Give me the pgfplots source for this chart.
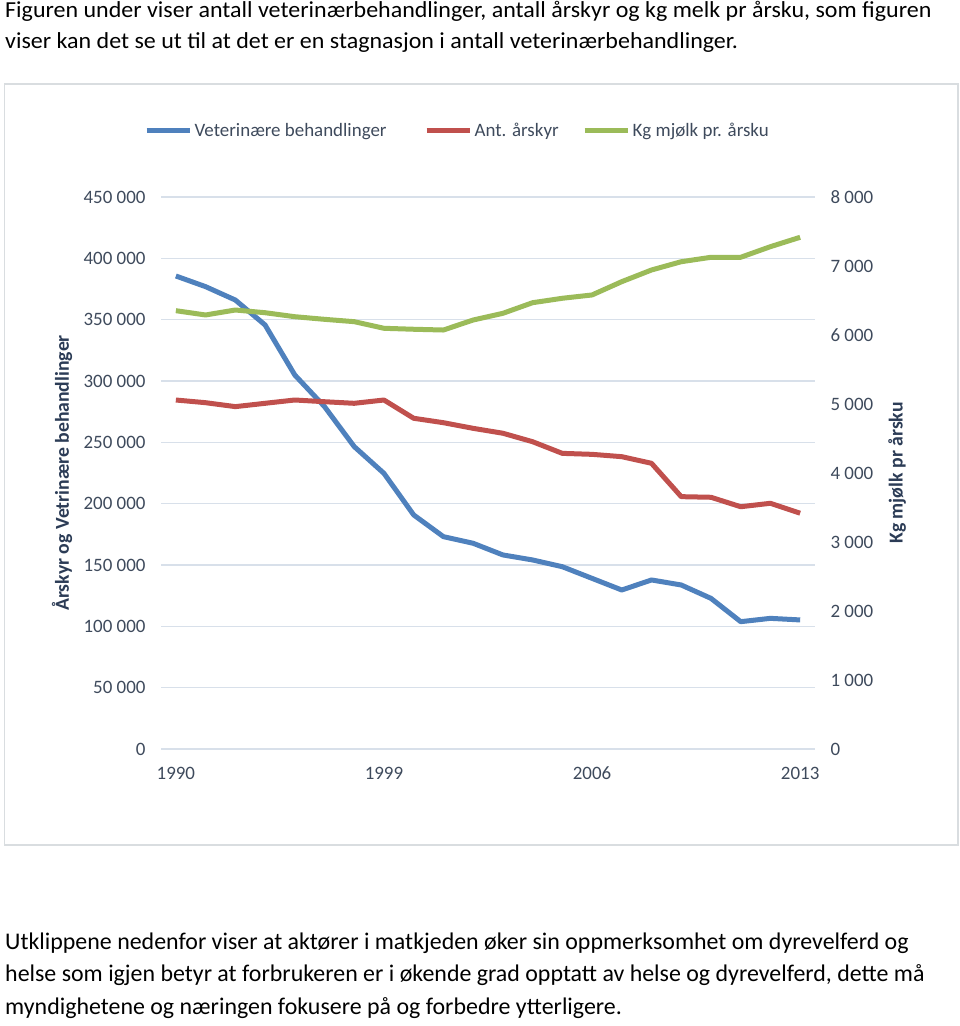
\documentclass[border=0pt]{standalone}
\usepackage{pgfplots}
\pgfplotsset{compat=1.18}
\usepackage{fontspec}
\setmainfont{Carlito}
\definecolor{cblue}{HTML}{4F81BD}
\definecolor{cred}{HTML}{C0504D}
\definecolor{cgreen}{HTML}{9BBB59}
\definecolor{cgrid}{HTML}{D8E0EA}
\definecolor{ctick}{HTML}{3E4A5C}
\definecolor{clabel}{HTML}{2C3C56}
\definecolor{cframe}{HTML}{D9DDE0}
\pgfplotstableread{
i vet arskyr kg
0 385600 284500 6352
1 376900 282300 6290
2 366000 279100 6362
3 345700 281800 6323
4 304900 284500 6265
5 279100 283100 6227
6 246500 281800 6193
7 224700 284500 6097
8 190800 269600 6083
9 173100 266000 6072
10 167700 261400 6217
11 158200 257400 6314
12 154100 250500 6468
13 148600 241000 6532
14 139100 240200 6580
15 129600 238300 6773
16 137800 232900 6942
17 133700 205700 7062
18 122800 205200 7126
19 103800 197500 7126
20 106500 200300 7280
21 105200 192200 7416
}\datatable
\begin{document}
\begin{tikzpicture}[x=1bp,y=1bp]
\useasboundingbox (0,0) rectangle (960,1026);
% frame
\draw[cframe, line width=1.5bp] (4.5,181) rectangle (958,942);
% top text
\node[anchor=base west, inner sep=0] at (5,1008) {\scalebox{1.047}[1]{\fontsize{23}{28}\selectfont Figuren under viser antall veterinærbehandlinger, antall årskyr og kg melk pr årsku, som figuren}};
\node[anchor=base west, inner sep=0] at (5,977) {\scalebox{1.047}[1]{\fontsize{23}{28}\selectfont viser kan det se ut til at det er en stagnasjon i antall veterinærbehandlinger.}};
% bottom text
\node[anchor=base west, inner sep=0] at (5,76.5) {\fontsize{24}{28}\selectfont Utklippene nedenfor viser at aktører i matkjeden øker sin oppmerksomhet om dyrevelferd og};
\node[anchor=base west, inner sep=0] at (5,44) {\fontsize{24}{28}\selectfont helse som igjen betyr at forbrukeren er i økende grad opptatt av helse og dyrevelferd, dette må};
\node[anchor=base west, inner sep=0] at (5,11.5) {\fontsize{24}{28}\selectfont myndighetene og næringen fokusere på og forbedre ytterligere.};
\begin{axis}[
  at={(161bp,277bp)}, anchor=south west,
  scale only axis, width=654bp, height=552bp,
  xmin=-0.5, xmax=21.5, ymin=0, ymax=450000,
  scaled y ticks=false,
  axis line style={draw=none}, tick style={draw=none},
  xtick={0,7,14,21}, xticklabels={1990,1999,2006,2013},
  ytick={0,50000,100000,150000,200000,250000,300000,350000,400000,450000},
  yticklabels={0,50 000,100 000,150 000,200 000,250 000,300 000,350 000,400 000,450 000},
  ymajorgrids, grid style={cgrid, line width=1.5bp},
  ticklabel style={font=\fontsize{19}{22}\selectfont, text=ctick},
  yticklabel style={xshift=-12bp},
  xticklabel style={anchor=base, yshift=-31bp},
  ylabel={\bfseries Årskyr og Vetrinære behandlinger},
  ylabel style={at={(axis description cs:-0.1514,0.5)}, anchor=center, font=\fontsize{19.8}{22}\selectfont, text=clabel},
  legend columns=3,
  legend style={at={(axis description cs:-0.0306,1.1196)}, anchor=west, draw=none, fill=none,
    font=\fontsize{19}{22}\selectfont, text=ctick, nodes={inner sep=2.5bp},
    /tikz/column 2/.style={column sep=35bp},
    /tikz/column 4/.style={column sep=21bp}},
  legend image code/.code={\draw[#1, line width=5bp] (0bp,0bp) -- (43bp,0bp);},
  clip=false,
]
\addplot[cblue, line width=5bp, line join=round] table[x=i, y=vet] {\datatable};
\addlegendentry{Veterinære behandlinger}
\addplot[cred, line width=5bp, line join=round] table[x=i, y=arskyr] {\datatable};
\addlegendentry{Ant. årskyr}
\addlegendimage{cgreen, line width=5bp}
\addlegendentry{Kg mjølk pr. årsku}
\end{axis}
\begin{axis}[
  at={(161bp,277bp)}, anchor=south west,
  scale only axis, width=654bp, height=552bp,
  xmin=-0.5, xmax=21.5, ymin=0, ymax=8000,
  axis y line*=right, axis x line=none,
  axis line style={draw=none}, tick style={draw=none},
  ytick={0,1000,2000,3000,4000,5000,6000,7000,8000},
  yticklabels={0,1 000,2 000,3 000,4 000,5 000,6 000,7 000,8 000},
  ticklabel style={font=\fontsize{19}{22}\selectfont, text=ctick},
  yticklabel style={xshift=12bp},
  ylabel={\bfseries Kg mjølk pr årsku},
  ylabel style={at={(axis description cs:1.1254,0.5)}, anchor=center, font=\fontsize{19.8}{22}\selectfont, text=clabel},
  clip=false,
]
\addplot[cgreen, line width=5bp, line join=round] table[x=i, y=kg] {\datatable};
\end{axis}
\end{tikzpicture}
\end{document}
